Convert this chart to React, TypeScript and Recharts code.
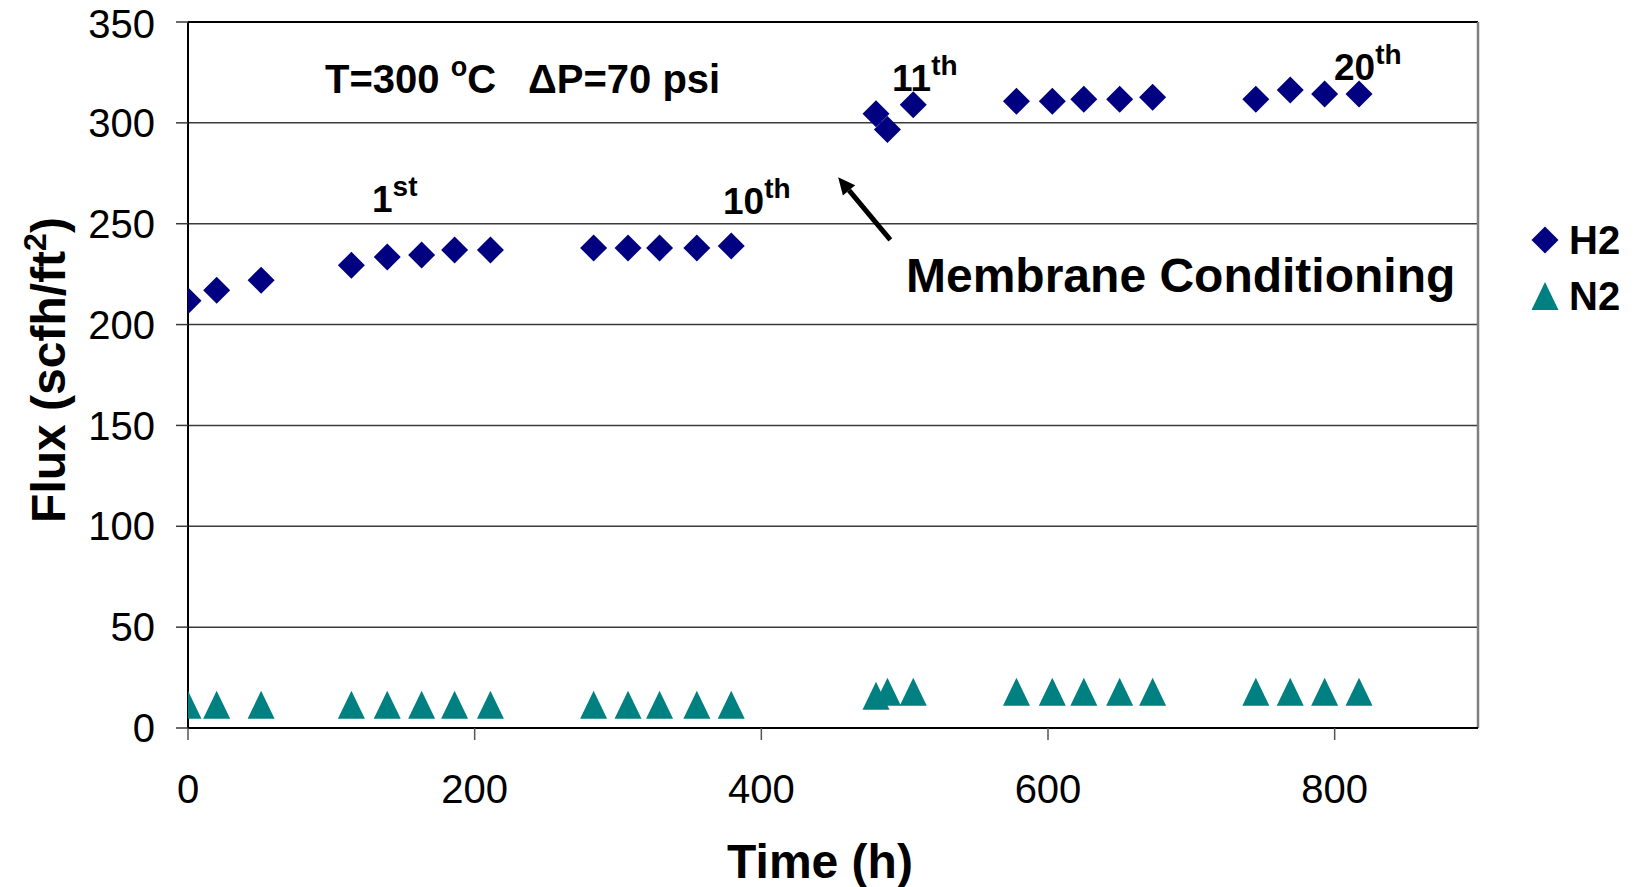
import React from 'react';
import {
  ScatterChart,
  Scatter,
  XAxis,
  YAxis,
  CartesianGrid,
  ReferenceLine,
} from 'recharts';

const FONT = '"Liberation Sans", Arial, sans-serif';

// time on stream (h), shared by both gases
const hours = [0, 20, 51, 114, 139, 163, 186, 211, 283, 307, 329, 355, 379, 480, 488, 506, 578, 603, 625, 650, 673, 745, 769, 793, 817];
const h2Flux = [211.8, 217, 222, 229.4, 233.5, 234.5, 237, 237, 238, 238, 238, 238, 239, 304.5, 296.7, 309, 310.7, 310.7, 311.7, 311.7, 312.7, 311.7, 316.3, 314.3, 314.3];
const n2Flux = [11.5, 11.5, 11.5, 11.5, 11.5, 11.5, 11.5, 11.5, 11.5, 11.5, 11.5, 11.5, 11.5, 16, 18, 18, 18, 18, 18, 18, 18, 18, 18, 18, 18];

const xTicks = [0, 200, 400, 600, 800];
const yTicks = [0, 50, 100, 150, 200, 250, 300, 350];

const H2_COLOR = '#000080';
const N2_COLOR = '#008080';

const h2Data = hours.map((t, i) => ({ time: t, flux: h2Flux[i] }));
const n2Data = hours.map((t, i) => ({ time: t, flux: n2Flux[i] }));

// arrow pointing at the conditioning break (data coords)
const arrowTail = { x: 490, y: 242 };
const arrowHead = { x: 453.6, y: 273 };

const Diamond = (props: any) => {
  const { cx, cy } = props;
  const r = 13.5;
  return (
    <polygon
      points={`${cx},${cy - r} ${cx + r},${cy} ${cx},${cy + r} ${cx - r},${cy}`}
      fill={H2_COLOR}
    />
  );
};

const Triangle = (props: any) => {
  const { cx, cy } = props;
  const w = 13.5;
  const h = 14;
  return (
    <polygon
      points={`${cx},${cy - h} ${cx + w},${cy + h} ${cx - w},${cy + h}`}
      fill={N2_COLOR}
    />
  );
};

const Arrow = (props: any) => {
  const { x1, y1, x2, y2 } = props;
  const dx = x2 - x1;
  const dy = y2 - y1;
  const len = Math.sqrt(dx * dx + dy * dy);
  const ux = dx / len;
  const uy = dy / len;
  const headLen = 17;
  const headW = 8;
  const bx = x2 - ux * headLen;
  const by = y2 - uy * headLen;
  return (
    <g>
      <line x1={x1} y1={y1} x2={bx} y2={by} stroke="#000" strokeWidth={5} />
      <polygon
        points={`${x2},${y2} ${bx - uy * headW},${by + ux * headW} ${bx + uy * headW},${by - ux * headW}`}
        fill="#000"
      />
    </g>
  );
};

// legend drawn in svg so it doesn't eat into the plot area
const legendItems = [
  { name: 'H2', Marker: Diamond },
  { name: 'N2', Marker: Triangle },
];

const Ordinal = ({ x, y, num, suf }: { x: number; y: number; num: string; suf: string }) => (
  <text x={x} y={y} fontFamily={FONT} fontWeight="bold" fontSize={37} fill="#000">
    {num}
    <tspan dy={-16} fontSize={28}>{suf}</tspan>
  </text>
);

export default function App() {
  // pull the chart into the body margin so svg coords match the page
  return (
    <div style={{ margin: '-8px 0 0 -8px' }}>
      <ScatterChart
        width={1636}
        height={887}
        margin={{ top: 22, right: 158, bottom: 0, left: 0 }}
      >
        <CartesianGrid vertical={false} stroke="#3a3a3a" strokeWidth={1.5} />
        <XAxis
          type="number"
          dataKey="time"
          domain={[0, 900]}
          ticks={xTicks}
          allowDataOverflow
          height={159}
          axisLine={{ stroke: '#000', strokeWidth: 2 }}
          tickLine={{ stroke: '#555', strokeWidth: 1.5 }}
          tickSize={12}
          tickMargin={35}
          tick={{ fontSize: 40, fill: '#000', fontFamily: FONT }}
          label={{
            content: () => (
              <text x={820} y={878} textAnchor="middle" fontFamily={FONT} fontWeight="bold" fontSize={48} fill="#000">
                Time (h)
              </text>
            ),
          }}
        />
        <YAxis
          type="number"
          dataKey="flux"
          domain={[0, 350]}
          ticks={yTicks}
          allowDataOverflow
          width={188}
          axisLine={{ stroke: '#000', strokeWidth: 2 }}
          tickLine={{ stroke: '#3a3a3a', strokeWidth: 1.5 }}
          tickSize={12}
          tickMargin={21}
          tick={{ fontSize: 40, fill: '#000', fontFamily: FONT }}
          label={{
            content: () => (
              <text
                x={65}
                y={370}
                transform="rotate(-90, 65, 370)"
                textAnchor="middle"
                fontFamily={FONT}
                fontWeight="bold"
                fontSize={48}
                fill="#000"
              >
                Flux (scfh/ft
                <tspan dy={-19} fontSize={32}>2</tspan>
                <tspan dy={19}>)</tspan>
              </text>
            ),
          }}
        />
        <ReferenceLine y={350} stroke="#000" strokeWidth={2} />
        <ReferenceLine x={900} stroke="#808080" strokeWidth={2.5} />
        <ReferenceLine segment={[arrowTail, arrowHead]} shape={Arrow} />
        <Scatter name="H2" data={h2Data} shape={Diamond} isAnimationActive={false} />
        <Scatter name="N2" data={n2Data} shape={Triangle} isAnimationActive={false} />

        <text x={325} y={93} fontFamily={FONT} fontWeight="bold" fontSize={40} fill="#000">
          T=300{' '}
          <tspan dy={-17} fontSize={27}>o</tspan>
          <tspan dy={17}>C</tspan>
        </text>
        <text x={528} y={93} fontFamily={FONT} fontWeight="bold" fontSize={40} fill="#000">
          ΔP=70 psi
        </text>
        <Ordinal x={372} y={212} num="1" suf="st" />
        <Ordinal x={723} y={214} num="10" suf="th" />
        <Ordinal x={892} y={91} num="11" suf="th" />
        <Ordinal x={1334} y={80} num="20" suf="th" />
        <text x={906} y={292} fontFamily={FONT} fontWeight="bold" fontSize={48} fill="#000">
          Membrane Conditioning
        </text>

        {legendItems.map(({ name, Marker }, i) => (
          <g key={name}>
            <Marker cx={1545} cy={240 + i * 56} />
            <text
              x={1569}
              y={254 + i * 56}
              fontFamily={FONT}
              fontWeight="bold"
              fontSize={40}
              fill="#000"
            >
              {name}
            </text>
          </g>
        ))}
      </ScatterChart>
    </div>
  );
}
